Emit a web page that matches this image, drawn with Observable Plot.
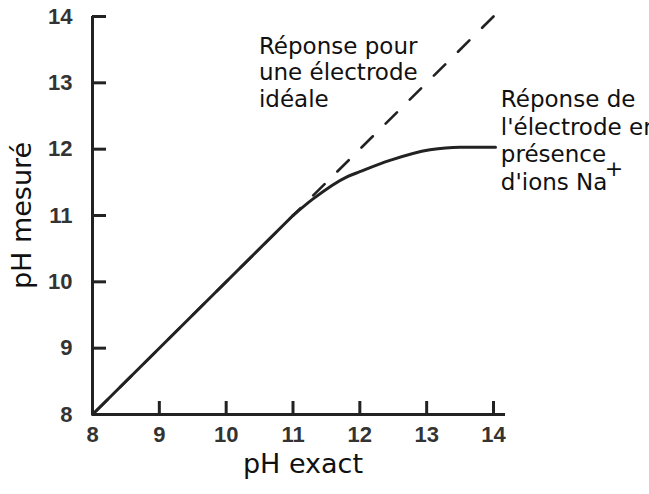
<!DOCTYPE html>
<html><head><meta charset="utf-8">
<script src="https://cdn.jsdelivr.net/npm/d3@7"></script>
<script src="https://cdn.jsdelivr.net/npm/@observablehq/plot@0.6"></script>
<style>body{margin:0;background:#fff}</style>
</head><body><div id="chart"></div>
<script>
const xTicks = [8, 9, 10, 11, 12, 13, 14];
const yTicks = [8, 9, 10, 11, 12, 13, 14];
// linear part of the measured response
const linearExact = [8, 11];
const linearMeasured = [8, 11];
// curved part (sodium error)
const bendExact = [11, 11.3, 11.8, 12, 12.45, 13.05, 13.5, 14.03];
const bendMeasured = [11, 11.25, 11.58, 11.66, 11.83, 11.99, 12.03, 12.03];
const idealExact = [14, 8];
const idealMeasured = [14, 8];
const xLabel = "pH exact";
const yLabel = "pH mesuré";
const noteIdeal = ["Réponse pour", "une électrode", "idéale"];
const noteNa = ["Réponse de", "l'électrode en", "présence", "d'ions Na"];
const noteSup = "+";

const ink = "#222";
const linear = linearExact.map((x, i) => ({x, y: linearMeasured[i]}));
const bend = bendExact.map((x, i) => ({x, y: bendMeasured[i]}));
const ideal = idealExact.map((x, i) => ({x, y: idealMeasured[i]}));
const font = "DejaVu Sans, Verdana, sans-serif";
const tickFont = "Liberation Sans, Arial, sans-serif";
const W = 649, H = 494, mt = 16, mb = 80, ml = 92, mr = 156;

const chart = Plot.plot({
  width: W, height: H,
  marginTop: mt, marginBottom: mb, marginLeft: ml, marginRight: mr,
  x: {domain: [8, 14]},
  y: {domain: [8, 14]},
  style: {background: "#fff", overflow: "visible"},
  marks: [
    Plot.tickX(xTicks, {x: d => d, insetTop: (H - mt - mb) - 13, stroke: ink, strokeWidth: 3}),
    Plot.tickY(yTicks, {y: d => d, insetRight: (W - ml - mr) - 14, stroke: ink, strokeWidth: 3}),
    Plot.axisX(xTicks, {tickSize: 0, tickPadding: 12, tickFormat: "d", fontSize: 22, fontWeight: "bold", fontFamily: tickFont, fill: "#333", label: null}),
    Plot.axisY(yTicks, {tickSize: 0, tickPadding: 20, tickFormat: "d", fontSize: 22, fontWeight: "bold", fontFamily: tickFont, fill: "#333", label: null}),
    Plot.ruleY([8], {x1: 8, x2: 14.18, stroke: ink, strokeWidth: 3}),
    Plot.ruleX([8], {y1: 8, y2: 14, stroke: ink, strokeWidth: 3}),
    Plot.line(ideal, {x: "x", y: "y", stroke: ink, strokeWidth: 2.6, strokeDasharray: "16,18"}),
    Plot.line(linear, {x: "x", y: "y", stroke: ink, strokeWidth: 3}),
    Plot.line(bend, {x: "x", y: "y", stroke: ink, strokeWidth: 3, curve: "monotone-x"}),
    Plot.text([noteIdeal.join("\n")], {x: 10.49, y: 13.73, text: d => d, textAnchor: "start", lineAnchor: "top", lineHeight: 1.17, fontSize: 23, fontFamily: font, fill: "#111"}),
    Plot.text([noteNa.join("\n")], {x: 14.11, y: 12.93, text: d => d, textAnchor: "start", lineAnchor: "top", lineHeight: 1.2, fontSize: 23, fontFamily: font, fill: "#111"}),
    Plot.text([noteSup], {x: 14.11, y: 12.93, text: d => d, textAnchor: "start", lineAnchor: "top", dx: 104, dy: 73, fontSize: 22, fontFamily: font, fill: "#111"}),
    Plot.text([xLabel], {frameAnchor: "bottom", text: d => d, textAnchor: "middle", dx: 10, dy: 58, fontSize: 27, fontFamily: font, fill: "#111"}),
    Plot.text([yLabel], {frameAnchor: "left", text: d => d, textAnchor: "middle", rotate: -90, dx: -70, fontSize: 27, fontFamily: font, fill: "#111"})
  ]
});
document.getElementById("chart").append(chart);
</script></body></html>
